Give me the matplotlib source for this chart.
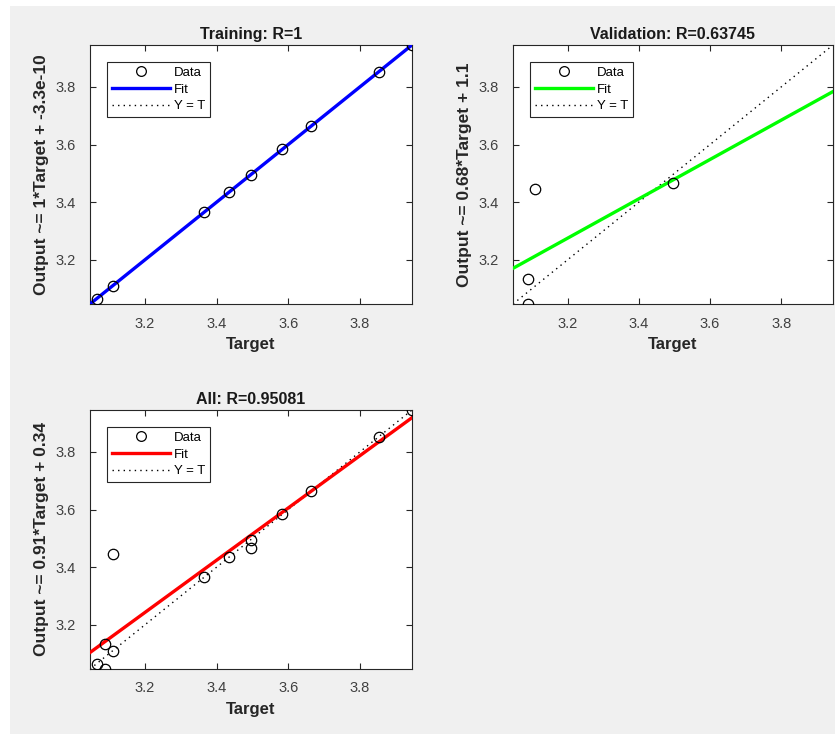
import numpy as np
import matplotlib
matplotlib.use("Agg")
import matplotlib.pyplot as plt
from matplotlib.patches import Rectangle
from matplotlib.lines import Line2D

plt.rcParams['font.family'] = ['Liberation Sans', 'DejaVu Sans']

# ---- data ----
train_target = [3.066, 3.110, 3.365, 3.435, 3.495, 3.583, 3.664, 3.853, 3.945]
train_output = [3.066, 3.110, 3.365, 3.435, 3.495, 3.583, 3.664, 3.853, 3.945]
val_target = [3.110, 3.090, 3.090, 3.495]
val_output = [3.445, 3.133, 3.047, 3.465]

titles = ["Training: R=1", "Validation: R=0.63745", "All: R=0.95081"]
ylabels = ["Output ~= 1*Target + -3.3e-10",
           "Output ~= 0.68*Target + 1.1",
           "Output ~= 0.91*Target + 0.34"]
fit_colors = ["#0000ff", "#00ff00", "#ff0000"]
ticks = [3.2, 3.4, 3.6, 3.8]
lims = [3.047, 3.945]

all_target = train_target + val_target
all_output = train_output + val_output

W, H = 835, 734
fig = plt.figure(figsize=(W / 100, H / 100), dpi=100, facecolor="white")
fig.patches.append(Rectangle((10 / W, 0), 1, 1 - 6 / H, transform=fig.transFigure,
                             facecolor="#f0f0f0", edgecolor="none", zorder=-10))

def px_axes(l, t, r, b):
    return fig.add_axes([l / W, 1 - b / H, (r - l) / W, (b - t) / H])

axes = [px_axes(90, 45, 412, 304), px_axes(513, 45, 833, 304), px_axes(90, 410, 412, 669)]
datasets = [(train_target, train_output), (val_target, val_output), (all_target, all_output)]

for ax, (t, y), title, ylab, col in zip(axes, datasets, titles, ylabels, fit_colors):
    t = np.asarray(t); y = np.asarray(y)
    ax.set_facecolor("white")
    xs = np.array(lims)
    m, c = np.polyfit(t, y, 1)
    ax.plot(xs, xs, ls=(0, (1, 3)), color="black", lw=1.0, zorder=2)
    ax.plot(xs, m * xs + c, color=col, lw=2.4, zorder=3)
    ax.plot(t, y, ls="none", marker="o", mfc="none", mec="black", ms=7.5, mew=0.9, zorder=4)
    ax.set_xlim(lims); ax.set_ylim(lims)
    ax.set_xticks(ticks); ax.set_yticks(ticks)
    ax.set_xticklabels([f"{v:.1f}" for v in ticks])
    ax.set_yticklabels([f"{v:.1f}" for v in ticks])
    ax.tick_params(direction="in", length=4, width=0.8, top=True, right=True,
                   labelsize=10.5, colors="#262626", labelcolor="#404040")
    ax.tick_params(axis="x", pad=9)
    ax.tick_params(axis="y", pad=10)
    for s in ax.spines.values():
        s.set_color("#262626"); s.set_linewidth(0.8)
    ax.set_title(title, fontsize=11.5, fontweight="bold", color="#1a1a1a", pad=4)
    ax.set_xlabel("Target", fontsize=12, fontweight="bold", color="#262626", labelpad=5)
    ax.set_ylabel(ylab, fontsize=12.5, fontweight="bold", color="#262626", labelpad=5)
    handles = [Line2D([], [], ls="none", marker="o", mfc="none", mec="black", ms=7, mew=0.9),
               Line2D([], [], color=col, lw=2.4),
               Line2D([], [], ls=(0, (1, 3)), color="black", lw=1.0)]
    leg = ax.legend(handles, ["Data", "Fit", "Y = T"], loc="upper left",
                    bbox_to_anchor=(0.053, 0.935), fontsize=9.5, frameon=True, fancybox=False,
                    edgecolor="#262626", framealpha=1, handlelength=4.4, handletextpad=0.35,
                    borderpad=0.35, labelspacing=0.35, borderaxespad=0)
    leg.get_frame().set_linewidth(0.8)

fig.savefig("out.png", dpi=100, facecolor=fig.get_facecolor())
